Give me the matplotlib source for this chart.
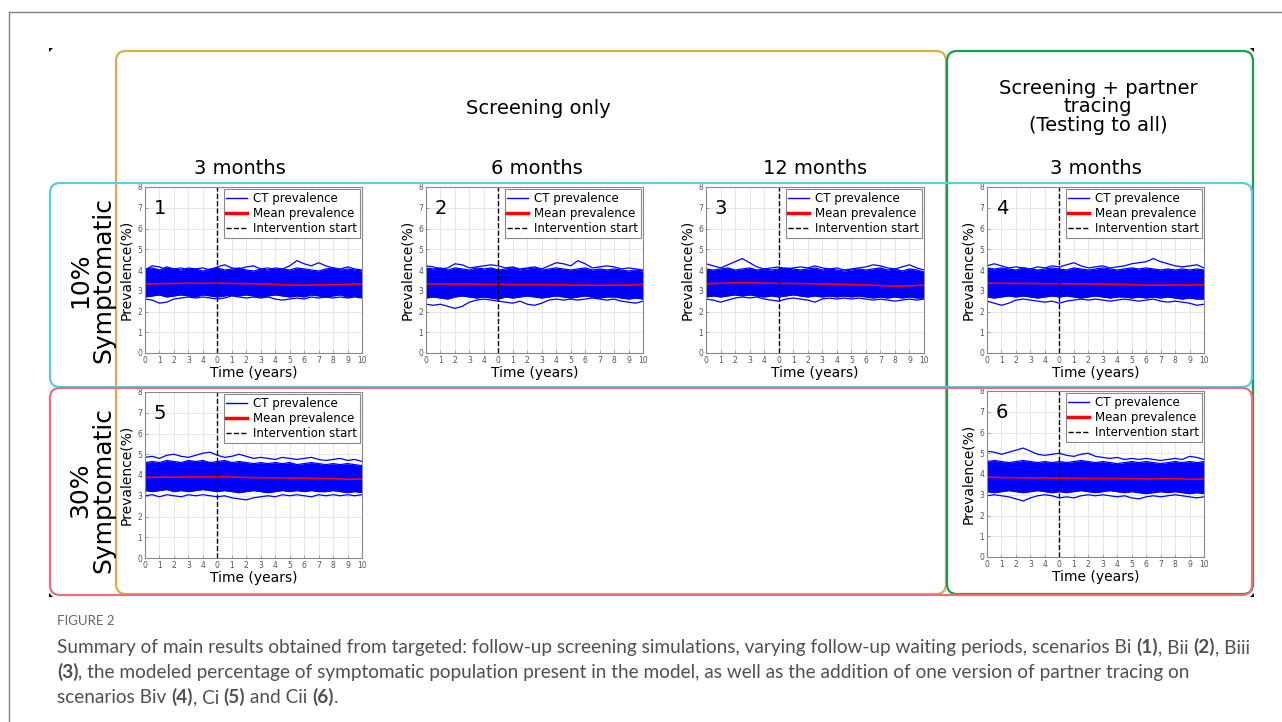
import numpy as np
import matplotlib
matplotlib.use('Agg')
import matplotlib.pyplot as plt
from matplotlib.patches import FancyBboxPatch, Polygon
from matplotlib.lines import Line2D

W, H = 1282, 722

# ---- data ----
t_year = [-5, -4, -3, -2, -1, 0, 1, 2, 3, 4, 5, 6, 7, 8, 9, 10]
t_half = list(np.arange(-5, 10.5, 0.5))
tick_labels = ['0', '1', '2', '3', '4', '0', '1', '2', '3', '4', '5', '6', '7', '8', '9', '10']

# panel 1: 10% symptomatic, screening every 3 months
p1_mean = [3.33, 3.34, 3.35, 3.36, 3.36, 3.37, 3.35, 3.34, 3.33, 3.31, 3.28, 3.27, 3.28, 3.29, 3.31, 3.33]
p1_hi = [4.05, 4.1, 4.0, 4.15, 4.05, 4.0, 4.1, 4.05, 3.95, 4.05, 4.1, 4.0, 4.05, 4.1, 4.0, 3.95,
         4.05, 4.0, 4.1, 4.05, 4.0, 4.1, 4.05, 4.0, 3.95, 4.05, 4.1, 4.0, 4.05, 4.0, 3.95]
p1_lo = [2.7, 2.75, 2.8, 2.7, 2.75, 2.8, 2.75, 2.7, 2.8, 2.75, 2.7, 2.75, 2.8, 2.75, 2.8, 2.75,
         2.7, 2.75, 2.8, 2.75, 2.7, 2.75, 2.7, 2.8, 2.75, 2.7, 2.75, 2.8, 2.7, 2.75, 2.7]
p1_up = [4.0, 4.2, 4.15, 4.0, 4.05, 4.1, 4.0, 4.05, 4.1, 4.0, 4.15, 4.25, 4.1, 4.05, 4.15, 4.2,
         4.05, 4.1, 4.0, 4.05, 4.2, 4.45, 4.3, 4.2, 4.35, 4.2, 4.1, 4.05, 4.15, 4.05, 4.0]
p1_dn = [2.6, 2.55, 2.4, 2.45, 2.6, 2.65, 2.7, 2.65, 2.7, 2.65, 2.6, 2.65, 2.75, 2.7, 2.65, 2.7,
         2.65, 2.7, 2.6, 2.55, 2.6, 2.65, 2.6, 2.7, 2.65, 2.7, 2.65, 2.7, 2.65, 2.7, 2.65]

# panel 2: 10% symptomatic, 6 months
p2_mean = [3.33, 3.33, 3.32, 3.32, 3.31, 3.31, 3.3, 3.3, 3.3, 3.29, 3.28, 3.27, 3.26, 3.27, 3.28, 3.3]
p2_hi = [4.1, 4.05, 4.1, 4.0, 4.1, 4.05, 4.0, 4.1, 4.05, 4.1, 4.0, 4.05, 4.1, 4.0, 4.05, 4.1,
         4.0, 4.05, 4.1, 4.05, 4.0, 4.05, 4.1, 4.0, 4.05, 4.0, 4.05, 4.0, 3.95, 4.0, 3.95]
p2_lo = [2.65, 2.7, 2.65, 2.6, 2.7, 2.75, 2.7, 2.65, 2.7, 2.65, 2.6, 2.7, 2.65, 2.7, 2.75, 2.7,
         2.65, 2.7, 2.75, 2.7, 2.65, 2.7, 2.75, 2.7, 2.65, 2.7, 2.7, 2.65, 2.6, 2.65, 2.6]
p2_up = [4.2, 4.15, 4.05, 4.1, 4.3, 4.25, 4.1, 4.15, 4.2, 4.25, 4.2, 4.1, 4.15, 4.05, 4.1, 4.15,
         4.05, 4.2, 4.35, 4.3, 4.2, 4.45, 4.3, 4.1, 4.15, 4.2, 4.15, 4.05, 4.1, 4.05, 4.0]
p2_dn = [2.35, 2.3, 2.35, 2.25, 2.15, 2.25, 2.45, 2.55, 2.6, 2.55, 2.5, 2.45, 2.4, 2.5, 2.35, 2.3,
         2.4, 2.55, 2.6, 2.55, 2.6, 2.55, 2.6, 2.65, 2.6, 2.55, 2.6, 2.5, 2.45, 2.4, 2.5]

# panel 3: 10% symptomatic, 12 months
p3_mean = [3.33, 3.36, 3.38, 3.38, 3.37, 3.35, 3.35, 3.34, 3.33, 3.31, 3.3, 3.28, 3.25, 3.22, 3.24, 3.27]
p3_hi = [4.05, 4.0, 4.05, 4.1, 4.0, 4.05, 4.1, 4.0, 4.05, 4.0, 4.05, 4.1, 4.05, 4.0, 4.05, 4.1,
         4.0, 4.05, 4.0, 3.95, 4.0, 4.05, 4.0, 4.05, 4.1, 4.0, 4.05, 3.95, 4.05, 4.0, 3.9]
p3_lo = [2.7, 2.75, 2.7, 2.75, 2.8, 2.75, 2.8, 2.75, 2.7, 2.75, 2.7, 2.75, 2.8, 2.75, 2.7, 2.75,
         2.7, 2.75, 2.7, 2.75, 2.7, 2.75, 2.7, 2.65, 2.7, 2.65, 2.7, 2.65, 2.7, 2.65, 2.65]
p3_up = [4.3, 4.2, 4.1, 4.25, 4.4, 4.55, 4.35, 4.15, 4.05, 4.1, 4.15, 4.05, 4.1, 4.15, 4.1, 4.2,
         4.1, 4.05, 4.1, 4.0, 4.05, 4.1, 4.15, 4.25, 4.2, 4.1, 4.05, 4.15, 4.25, 4.1, 4.0]
p3_dn = [2.6, 2.55, 2.45, 2.55, 2.65, 2.7, 2.65, 2.7, 2.6, 2.55, 2.5, 2.6, 2.65, 2.6, 2.55, 2.45,
         2.6, 2.65, 2.6, 2.65, 2.6, 2.65, 2.6, 2.55, 2.6, 2.55, 2.5, 2.55, 2.6, 2.55, 2.6]

# panel 4: 10% symptomatic, 3 months + partner tracing
p4_mean = [3.36, 3.36, 3.35, 3.35, 3.34, 3.34, 3.33, 3.33, 3.32, 3.31, 3.3, 3.27, 3.27, 3.28, 3.28, 3.29]
p4_hi = [4.1, 4.05, 4.1, 4.05, 4.0, 4.1, 4.05, 4.0, 4.05, 4.1, 4.05, 4.0, 4.1, 4.05, 4.0, 4.05,
         4.1, 4.05, 4.0, 4.05, 4.1, 4.05, 4.1, 4.05, 4.0, 4.05, 4.0, 4.05, 4.0, 4.05, 4.0]
p4_lo = [2.7, 2.65, 2.7, 2.75, 2.7, 2.75, 2.7, 2.65, 2.7, 2.75, 2.7, 2.75, 2.7, 2.65, 2.7, 2.75,
         2.7, 2.65, 2.7, 2.7, 2.65, 2.7, 2.65, 2.7, 2.65, 2.7, 2.65, 2.6, 2.65, 2.6, 2.6]
p4_up = [4.2, 4.3, 4.2, 4.1, 4.15, 4.1, 4.05, 4.15, 4.1, 4.2, 4.15, 4.25, 4.35, 4.2, 4.1, 4.15,
         4.2, 4.1, 4.15, 4.2, 4.3, 4.35, 4.4, 4.55, 4.4, 4.3, 4.2, 4.15, 4.2, 4.25, 4.1]
p4_dn = [2.5, 2.4, 2.3, 2.4, 2.55, 2.6, 2.55, 2.5, 2.45, 2.5, 2.4, 2.5, 2.55, 2.6, 2.55, 2.6,
         2.55, 2.5, 2.55, 2.6, 2.55, 2.5, 2.55, 2.6, 2.5, 2.45, 2.5, 2.45, 2.4, 2.3, 2.35]

# panel 5: 30% symptomatic, 3 months
p5_mean = [3.88, 3.9, 3.89, 3.91, 3.9, 3.92, 3.9, 3.88, 3.87, 3.86, 3.86, 3.85, 3.83, 3.82, 3.8, 3.8]
p5_hi = [4.6, 4.65, 4.6, 4.7, 4.65, 4.6, 4.7, 4.65, 4.7, 4.6, 4.65, 4.7, 4.6, 4.65, 4.6, 4.55,
         4.6, 4.55, 4.6, 4.55, 4.6, 4.5, 4.55, 4.6, 4.55, 4.5, 4.55, 4.5, 4.55, 4.5, 4.45]
p5_lo = [3.25, 3.2, 3.25, 3.3, 3.2, 3.25, 3.2, 3.25, 3.3, 3.25, 3.2, 3.25, 3.2, 3.15, 3.2, 3.25,
         3.2, 3.15, 3.2, 3.25, 3.2, 3.25, 3.2, 3.25, 3.2, 3.2, 3.25, 3.2, 3.15, 3.2, 3.15]
p5_up = [4.85, 4.9, 4.8, 4.95, 5.0, 4.9, 4.85, 4.95, 5.05, 5.1, 4.95, 4.85, 4.9, 5.0, 4.9, 4.8,
         4.85, 4.8, 4.75, 4.85, 4.8, 4.75, 4.8, 4.85, 4.75, 4.7, 4.75, 4.8, 4.7, 4.75, 4.65]
p5_dn = [3.0, 3.05, 2.95, 3.05, 3.0, 2.95, 3.05, 3.0, 3.05, 3.0, 2.95, 3.0, 2.9, 2.85, 2.8, 2.9,
         2.95, 3.0, 2.95, 3.05, 3.0, 3.05, 3.0, 2.95, 3.05, 3.0, 3.05, 3.0, 3.05, 3.0, 3.05]

# panel 6: 30% symptomatic, 3 months + partner tracing
p6_mean = [3.85, 3.83, 3.82, 3.82, 3.81, 3.8, 3.8, 3.78, 3.78, 3.78, 3.77, 3.76, 3.77, 3.78, 3.75, 3.76]
p6_hi = [4.6, 4.65, 4.6, 4.55, 4.6, 4.65, 4.6, 4.55, 4.6, 4.55, 4.6, 4.55, 4.6, 4.65, 4.6, 4.55,
         4.6, 4.55, 4.5, 4.55, 4.6, 4.55, 4.6, 4.55, 4.5, 4.55, 4.6, 4.55, 4.6, 4.55, 4.6]
p6_lo = [3.15, 3.1, 3.15, 3.2, 3.15, 3.1, 3.15, 3.2, 3.15, 3.1, 3.15, 3.1, 3.15, 3.2, 3.15, 3.1,
         3.15, 3.2, 3.15, 3.1, 3.15, 3.1, 3.05, 3.1, 3.15, 3.1, 3.15, 3.1, 3.05, 3.1, 3.05]
p6_up = [5.1, 5.05, 4.95, 5.05, 5.15, 5.25, 5.1, 4.95, 4.9, 4.95, 5.0, 4.9, 4.85, 4.95, 5.0, 4.85,
         4.8, 4.75, 4.8, 4.7, 4.75, 4.7, 4.75, 4.7, 4.65, 4.7, 4.75, 4.7, 4.85, 4.8, 4.7]
p6_dn = [2.95, 3.0, 2.95, 2.9, 2.8, 2.7, 2.85, 2.95, 3.0, 2.95, 2.85, 2.9, 2.85, 2.95, 3.0, 2.95,
         3.0, 2.95, 2.9, 2.95, 2.85, 2.8, 2.9, 2.95, 2.9, 2.95, 3.0, 2.95, 2.9, 2.85, 2.9]

panels = [
    ('1', p1_mean, p1_hi, p1_lo, p1_up, p1_dn),
    ('2', p2_mean, p2_hi, p2_lo, p2_up, p2_dn),
    ('3', p3_mean, p3_hi, p3_lo, p3_up, p3_dn),
    ('4', p4_mean, p4_hi, p4_lo, p4_up, p4_dn),
    ('5', p5_mean, p5_hi, p5_lo, p5_up, p5_dn),
    ('6', p6_mean, p6_hi, p6_lo, p6_up, p6_dn),
]
# pixel boxes (left, top, right, bottom) of each plot area
panel_px = [(145, 187, 362, 353), (426, 187, 643, 353), (706, 187, 924, 353),
            (987, 187, 1204, 353), (145, 392, 362, 558), (987, 391, 1204, 557)]

col_titles = ['3 months', '6 months', '12 months', '3 months']
col_x = [240, 537, 815, 1096]
row_titles = ['10%\nSymptomatic', '30%\nSymptomatic']
row_y = [280, 490]

plt.rcParams['font.family'] = 'DejaVu Sans'
fig = plt.figure(figsize=(W / 100, H / 100), dpi=100)

legend_handles = [Line2D([], [], color='#0000ff', lw=1.0),
                  Line2D([], [], color='red', lw=2.5),
                  Line2D([], [], color='black', lw=1.0, ls='--')]
legend_labels = ['CT prevalence', 'Mean prevalence', 'Intervention start']

for (num, mean, hi, lo, up, dn), (l, t, r, b) in zip(panels, panel_px):
    ax = fig.add_axes([l / W, 1 - b / H, (r - l) / W, (b - t) / H])
    ax.fill_between(t_half, lo, hi, color='#0000ff', lw=0)
    for tr in (hi, lo, up, dn):
        ax.plot(t_half, tr, color='#0000ff', lw=0.9)
    ax.plot(t_year, mean, color='red', lw=1.2)
    ax.axvline(0, color='black', ls='--', lw=1.0)
    ax.set_xlim(-5, 10)
    ax.set_ylim(0, 8)
    ax.set_xticks(t_year)
    ax.set_xticklabels(tick_labels)
    ax.set_yticks(range(9))
    ax.tick_params(direction='in', length=2, width=0.5, labelsize=5.5,
                   labelcolor='#555555', color='#888888', pad=2)
    ax.grid(True, color='#e3e3e3', lw=0.6)
    ax.set_axisbelow(True)
    for sp in ax.spines.values():
        sp.set_color('#888888')
        sp.set_linewidth(0.8)
    ax.set_xlabel('Time (years)', fontsize=10, labelpad=1)
    ax.set_ylabel('Prevalence(%)', fontsize=10, labelpad=3)
    ax.text(0.04, 0.93, num, transform=ax.transAxes, fontsize=14, va='top', ha='left')
    leg = ax.legend(legend_handles, legend_labels, loc='upper right', fontsize=8.5,
                    fancybox=False, framealpha=1, edgecolor='#888888', borderpad=0.2,
                    labelspacing=0.2, handlelength=1.8, handletextpad=0.5, borderaxespad=0.2)
    leg.get_frame().set_linewidth(0.8)

# overlay in pixel coordinates for frames, headings and caption
ov = fig.add_axes([0, 0, 1, 1])
ov.set_xlim(0, W)
ov.set_ylim(H, 0)
ov.axis('off')
ov.patch.set_alpha(0)

ov.plot([9, W], [12, 12], color='#808080', lw=1)
ov.plot([9, 9], [12, H], color='#808080', lw=1)

def frame(x0, y0, x1, y1, color):
    ov.add_patch(FancyBboxPatch((x0, y0), x1 - x0, y1 - y0,
                                boxstyle='round,pad=0,rounding_size=10',
                                fc='none', ec=color, lw=1.6))

frame(116, 51, 946, 594, '#d4b04c')
frame(947, 51, 1253, 594, '#1f9a4d')
frame(50, 183, 1252, 387, '#5bcbe6')
frame(50, 388, 1252, 595, '#e8707a')

for pts in ([(49, 48), (53, 48), (49, 52)], [(1250, 48), (1254, 48), (1254, 52)],
            [(49, 593), (49, 597), (53, 597)], [(1250, 597), (1254, 597), (1254, 593)]):
    ov.add_patch(Polygon(pts, closed=True, fc='black', ec='none'))

ov.text(538, 108, 'Screening only', fontsize=14, ha='center', va='center')
ov.text(1098, 107, 'Screening + partner\ntracing\n(Testing to all)', fontsize=14,
        ha='center', va='center', linespacing=0.98)
for txt, x in zip(col_titles, col_x):
    ov.text(x, 168, txt, fontsize=14, ha='center', va='center')
for txt, y in zip(row_titles, row_y):
    ov.text(92, y, txt, fontsize=18, ha='center', va='center', rotation=90, linespacing=0.95)

# caption
ov.text(57, 627, 'FIGURE 2', fontsize=9.5, color='#666666', family='Lato', va='bottom')
cap_lines = [
    [('Summary of main results obtained from targeted: follow-up screening simulations, varying '
      'follow-up waiting periods, scenarios Bi ', False), ('(1)', True), (', Bii ', False),
     ('(2)', True), (', Biii', False)],
    [('(3)', True), (', the modeled percentage of symptomatic population present in the model, '
                     'as well as the addition of one version of partner tracing on', False)],
    [('scenarios Biv ', False), ('(4)', True), (', Ci ', False), ('(5)', True),
     (' and Cii ', False), ('(6)', True), ('.', False)],
]
cap_y = [656, 681, 706]
for parts, y in zip(cap_lines, cap_y):
    prev = None
    for txt, bold in parts:
        kw = dict(fontsize=13.7, color='#505050', family='Lato',
                  fontweight='bold' if bold else 'normal', va='bottom', ha='left')
        if prev is None:
            prev = ov.text(57, y, txt, **kw)
        else:
            prev = ov.annotate(txt, xy=(1, 0), xycoords=prev, **kw)

fig.savefig('out.png', dpi=100)
